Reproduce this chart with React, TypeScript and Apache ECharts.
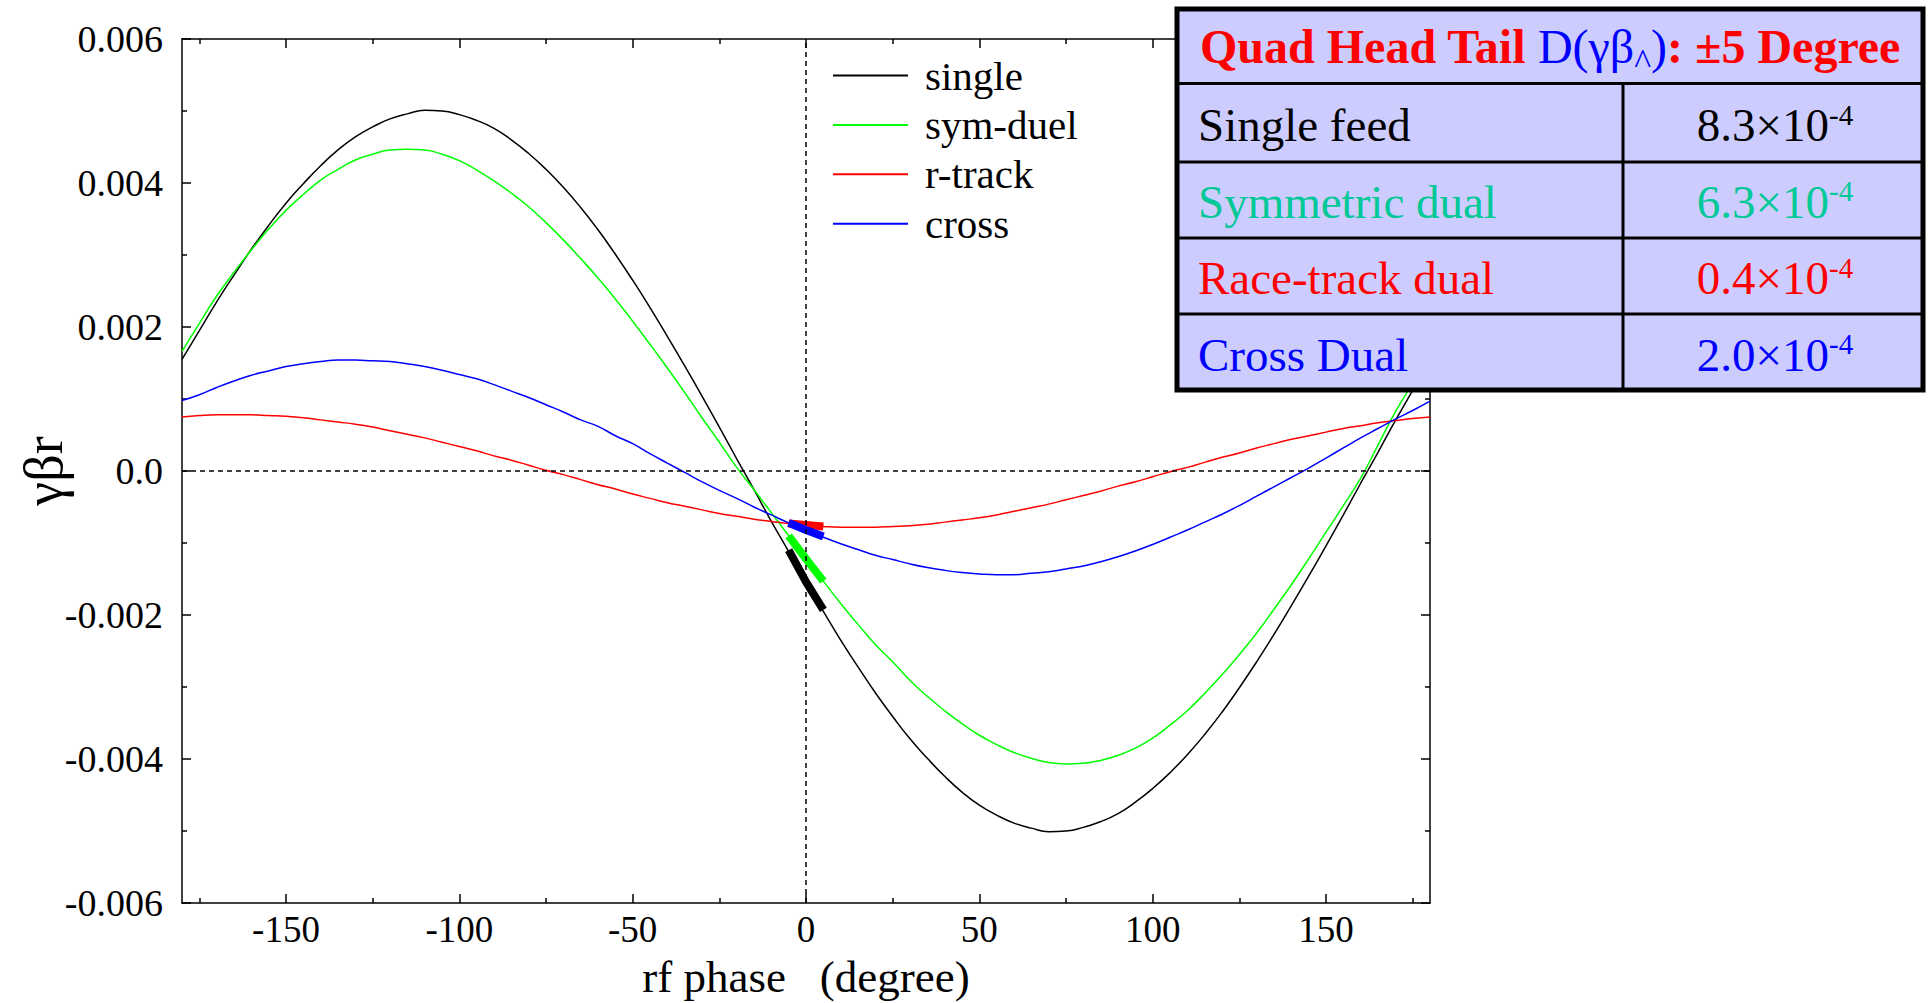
import React, { useEffect, useRef } from "react";
import * as echarts from "echarts";

// ---- data (every 5 degrees) ----
const phase = [
  -180, -175, -170, -165, -160, -155, -150, -145, -140, -135, -130, -125, -120, -115, -110, -105, -100, -95,
  -90, -85, -80, -75, -70, -65, -60, -55, -50, -45, -40, -35, -30, -25, -20, -15, -10, -5,
  0, 5, 10, 15, 20, 25, 30, 35, 40, 45, 50, 55, 60, 65, 70, 75, 80, 85,
  90, 95, 100, 105, 110, 115, 120, 125, 130, 135, 140, 145, 150, 155, 160, 165, 170, 175, 180,
];
const single = [
  0.00155, 0.00195, 0.00235, 0.00272, 0.00308, 0.00341, 0.00372, 0.00399, 0.00424, 0.00446, 0.00464, 0.00478,
  0.00489, 0.00496, 0.00501, 0.005, 0.00495, 0.00487,
  0.00476, 0.0046, 0.00441, 0.00419, 0.00394, 0.00366, 0.00335, 0.00301, 0.00265, 0.00227, 0.00187, 0.00146,
  0.00104, 0.00061, 0.00017, -0.00026, -0.0007, -0.00112,
  -0.00155, -0.00195, -0.00235, -0.00272, -0.00308, -0.00341, -0.00372, -0.00399, -0.00424, -0.00446, -0.00464,
  -0.00478, -0.00489, -0.00496, -0.00501, -0.005, -0.00495, -0.00487,
  -0.00476, -0.0046, -0.00441, -0.00419, -0.00394, -0.00366, -0.00335, -0.00301, -0.00265, -0.00227, -0.00187,
  -0.00146, -0.00104, -0.00061, -0.00017, 0.00026, 0.0007, 0.00112, 0.00155,
];
const symDual = [
  0.00166, 0.00205, 0.00243, 0.00276, 0.00307, 0.00336, 0.00362, 0.00384, 0.00404, 0.00419, 0.00432, 0.0044,
  0.00446, 0.00447, 0.00446, 0.0044, 0.00431, 0.00418,
  0.00403, 0.00386, 0.00367, 0.00345, 0.00321, 0.00295, 0.00268, 0.00239, 0.00208, 0.00176, 0.00143, 0.00109,
  0.00074, 0.0004, 0.00005, -0.00026, -0.00058, -0.0009,
  -0.00122, -0.00153, -0.00184, -0.00213, -0.00241, -0.00265, -0.00291, -0.00313, -0.00333, -0.00351, -0.00367,
  -0.0038, -0.00391, -0.00399, -0.00405, -0.00407, -0.00406, -0.00402,
  -0.00395, -0.00385, -0.00371, -0.00353, -0.00333, -0.00309, -0.00283, -0.00255, -0.00225, -0.00192, -0.00158,
  -0.00122, -0.00085, -0.00048, -0.0001, 0.00036, 0.00082, 0.00122, 0.0016,
];
const rTrack = [
  0.00075, 0.00077, 0.00078, 0.00078, 0.00078, 0.00077, 0.00076, 0.00074, 0.00071, 0.00068, 0.00065, 0.00061,
  0.00056, 0.00051, 0.00046, 0.0004, 0.00034, 0.00028,
  0.00021, 0.00015, 0.00008, 0.00001, -0.00005, -0.00012, -0.00019, -0.00025, -0.00032, -0.00038, -0.00044,
  -0.00049, -0.00054, -0.00059, -0.00063, -0.00067, -0.0007, -0.00073,
  -0.00075, -0.00077, -0.00078, -0.00078, -0.00078, -0.00077, -0.00076, -0.00074, -0.00071, -0.00068, -0.00065,
  -0.00061, -0.00056, -0.00051, -0.00046, -0.0004, -0.00034, -0.00028,
  -0.00021, -0.00015, -0.00008, -0.00001, 0.00005, 0.00012, 0.00019, 0.00025, 0.00032, 0.00038, 0.00044, 0.00049,
  0.00054, 0.00059, 0.00063, 0.00067, 0.0007, 0.00073, 0.00075,
];
const cross = [
  0.00098, 0.00106, 0.00116, 0.00125, 0.00133, 0.00139, 0.00145, 0.00149, 0.00152, 0.00154, 0.00154, 0.00153,
  0.00152, 0.00149, 0.00145, 0.0014, 0.00134, 0.00128,
  0.0012, 0.00111, 0.00102, 0.00092, 0.00082, 0.00071, 0.00062, 0.00049, 0.00038, 0.00024, 0.00011, -0.00002,
  -0.00015, -0.00027, -0.00038, -0.0005, -0.00061, -0.00072,
  -0.00082, -0.00092, -0.00101, -0.00109, -0.00117, -0.00123, -0.00129, -0.00134, -0.00138, -0.00141, -0.00143,
  -0.00144, -0.00144, -0.00142, -0.0014, -0.00136, -0.00132, -0.00126,
  -0.00119, -0.00111, -0.00102, -0.00092, -0.00082, -0.00071, -0.0006, -0.00048, -0.00035, -0.00022, -0.00009,
  0.00004, 0.00018, 0.00032, 0.00046, 0.00059, 0.00072, 0.00084, 0.00097,
];
// +-5 degree segments
const thickPhase = [-5, 0, 5];
const singleThick = [-0.0011, -0.00154, -0.00193];
const symDualThick = [-0.0009, -0.00122, -0.00153];
const rTrackThick = [-0.00073, -0.00075, -0.00077];
const crossThick = [-0.00072, -0.00082, -0.00091];

const seriesNames = ["single", "sym-duel", "r-track", "cross"];
const seriesColors = ["#000000", "#00ff00", "#ff0000", "#0000ff"];

const xMajorTicks = [-150, -100, -50, 0, 50, 100, 150];
const xMinorTicks = [-175, -125, -75, -25, 25, 75, 125, 175];

const tableTitle = ["Quad Head Tail ", "D(γβ", "^", ")", ": ±5 Degree"];
const tableLabels = ["Single feed", "Symmetric dual", "Race-track dual", "Cross Dual"];
const tableValues = ["8.3", "6.3", "0.4", "2.0"];
const tableExponent = "-4";
const tableColors = ["#000000", "#00c896", "#ff0000", "#0000ff"];

const serif = "'Liberation Serif', 'Times New Roman', serif";

const zip = (xs: number[], ys: number[]) => xs.map((x, i) => [x, ys[i]]);

function buildOption() {
  const axisLineStyle = { color: "#000", width: 1.5 };
  const xBase = {
    type: "value" as const,
    min: -180,
    max: 180,
    splitLine: { show: false },
  };
  const yBase = {
    type: "value" as const,
    min: -0.006,
    max: 0.006,
    interval: 0.002,
    splitLine: { show: false },
    minorSplitLine: { show: false },
  };

  const seriesData = [single, symDual, rTrack, cross];
  const thickData = [singleThick, symDualThick, rTrackThick, crossThick];

  const lineSeries: any[] = seriesNames.map((name, i) => ({
    name,
    type: "line",
    data: zip(phase, seriesData[i]),
    symbol: "none",
    showSymbol: false,
    smooth: true,
    lineStyle: { color: seriesColors[i], width: 1.5 },
    itemStyle: { color: seriesColors[i] },
    z: 3,
  }));
  lineSeries[0].markLine = {
    silent: true,
    symbol: ["none", "none"],
    label: { show: false },
    lineStyle: { color: "#000", type: [5, 4], width: 1.5 },
    data: [{ xAxis: 0 }, { yAxis: 0 }],
  };
  const thickSeries = [0, 1, 2, 3].map((i) => ({
    name: seriesNames[i] + "-5deg",
    type: "line",
    data: zip(thickPhase, thickData[i]),
    symbol: "none",
    showSymbol: false,
    lineStyle: { color: seriesColors[i], width: 8, cap: "butt" },
    itemStyle: { color: seriesColors[i] },
    z: 4,
  }));

  // table geometry (style only)
  const tL = 1177, tT = 9, tW = 746, tH = 381;
  const rowLines = [83.5, 162, 238, 314];
  const colX = 1623;
  const baselines = [141, 217.5, 294, 370.5];
  const fs = 47;
  const central = 0.3375 * fs;

  const graphics: any[] = [
    {
      type: "rect",
      z: 100,
      shape: { x: tL, y: tT, width: tW, height: tH },
      style: { fill: "#ccccff", stroke: "#000", lineWidth: 5 },
    },
    ...rowLines.map((y) => ({
      type: "line",
      z: 101,
      shape: { x1: tL, y1: y, x2: tL + tW, y2: y },
      style: { stroke: "#000", lineWidth: 3 },
    })),
    {
      type: "line",
      z: 101,
      shape: { x1: colX, y1: rowLines[0], x2: colX, y2: tT + tH },
      style: { stroke: "#000", lineWidth: 3 },
    },
    {
      type: "text",
      z: 102,
      x: 1550,
      y: 46,
      style: {
        text: `{r|${tableTitle[0]}}{b|${tableTitle[1]}}{c|${tableTitle[2]}}{b|${tableTitle[3]}}{r|${tableTitle[4]}}`,
        align: "center",
        verticalAlign: "middle",
        fill: "#ff0000",
        fontSize: 48,
        fontFamily: serif,
        rich: {
          r: { fill: "#ff0000", fontSize: 48, fontWeight: "bold", fontFamily: serif, lineHeight: 48 },
          b: { fill: "#0000ff", fontSize: 48, fontWeight: "normal", fontFamily: serif, lineHeight: 48 },
          c: { fill: "#0000ff", fontSize: 36, fontWeight: "normal", fontFamily: serif, height: 16, lineHeight: 16, verticalAlign: "bottom" },
        },
      },
    },
    ...tableLabels.map((label, i) => ({
      type: "text",
      z: 102,
      x: 1198,
      y: baselines[i] - central,
      style: {
        text: label,
        fill: tableColors[i],
        fontSize: fs,
        fontFamily: serif,
        align: "left",
        verticalAlign: "middle",
      },
    })),
    ...tableValues.map((v, i) => ({
      type: "text",
      z: 102,
      x: 1775,
      y: baselines[i] - central,
      style: {
        text: `{m|${v}×10}{s|${tableExponent}}`,
        align: "center",
        verticalAlign: "middle",
        fill: tableColors[i],
        fontSize: fs,
        fontFamily: serif,
        rich: {
          m: { fill: tableColors[i], fontSize: fs, fontFamily: serif, lineHeight: fs },
          s: { fill: tableColors[i], fontSize: 29, fontFamily: serif, height: 26, lineHeight: 26, verticalAlign: "top" },
        },
      },
    })),
  ];

  return {
    animation: false,
    backgroundColor: "#ffffff",
    grid: { left: 182, right: 501, top: 39, bottom: 100, containLabel: false, outerBoundsMode: "none" },
    legend: {
      data: seriesNames,
      orient: "vertical",
      left: 828,
      top: 50,
      icon: "rect",
      itemWidth: 75,
      itemHeight: 2,
      itemGap: 8.4,
      selectedMode: false,
      textStyle: { fontSize: 41, fontFamily: serif, color: "#000", padding: [0, 0, 0, 12] },
    },
    xAxis: [
      {
        ...xBase,
        position: "bottom",
        axisLine: { show: true, onZero: false, lineStyle: axisLineStyle },
        axisTick: { show: true, inside: true, length: 9, customValues: xMajorTicks, lineStyle: axisLineStyle },
        axisLabel: {
          show: true,
          customValues: xMajorTicks,
          margin: 11,
          lineHeight: 30,
          fontSize: 37,
          fontFamily: serif,
          color: "#000",
          formatter: (v: number) => String(v),
        },
        name: "rf phase   (degree)",
        nameLocation: "middle",
        nameGap: 53,
        nameMoveOverlap: false,
        nameTextStyle: { fontSize: 45, lineHeight: 42, fontFamily: serif, color: "#000" },
      },
      {
        ...xBase,
        position: "bottom",
        axisLine: { show: false, onZero: false },
        axisTick: { show: true, inside: true, length: 5, customValues: xMinorTicks, lineStyle: axisLineStyle },
        axisLabel: { show: false },
      },
      {
        ...xBase,
        position: "top",
        axisLine: { show: true, onZero: false, lineStyle: axisLineStyle },
        axisTick: { show: true, inside: true, length: 9, customValues: xMajorTicks, lineStyle: axisLineStyle },
        axisLabel: { show: false },
      },
      {
        ...xBase,
        position: "top",
        axisLine: { show: false, onZero: false },
        axisTick: { show: true, inside: true, length: 5, customValues: xMinorTicks, lineStyle: axisLineStyle },
        axisLabel: { show: false },
      },
    ],
    yAxis: [
      {
        ...yBase,
        position: "left",
        axisLine: { show: true, onZero: false, lineStyle: axisLineStyle },
        axisTick: { show: true, inside: true, length: 9, lineStyle: axisLineStyle },
        minorTick: { show: true, splitNumber: 2, length: 5, lineStyle: axisLineStyle },
        axisLabel: {
          show: true,
          margin: 19,
          fontSize: 38,
          fontFamily: serif,
          color: "#000",
          formatter: (v: number) => (Math.abs(v) < 1e-9 ? "0.0" : v.toFixed(3)),
        },
        name: "γβr",
        nameLocation: "middle",
        nameGap: 111,
        nameRotate: 90,
        nameMoveOverlap: false,
        nameTextStyle: { fontSize: 54, fontFamily: serif, color: "#000" },
      },
      {
        ...yBase,
        position: "right",
        axisLine: { show: true, onZero: false, lineStyle: axisLineStyle },
        axisTick: { show: true, inside: true, length: 9, lineStyle: axisLineStyle },
        minorTick: { show: true, splitNumber: 2, length: 5, lineStyle: axisLineStyle },
        axisLabel: { show: false },
      },
    ],
    series: [...lineSeries, ...thickSeries],
    graphic: { elements: graphics },
  };
}

export default function App() {
  const ref = useRef<HTMLDivElement>(null);
  useEffect(() => {
    if (!ref.current) return;
    const chart = echarts.init(ref.current, null, { renderer: "svg" });
    chart.setOption(buildOption() as any);
    return () => chart.dispose();
  }, []);
  return (
    <div
      ref={ref}
      style={{ position: "fixed", left: 0, top: 0, width: 1931, height: 1003, background: "#ffffff" }}
    />
  );
}
